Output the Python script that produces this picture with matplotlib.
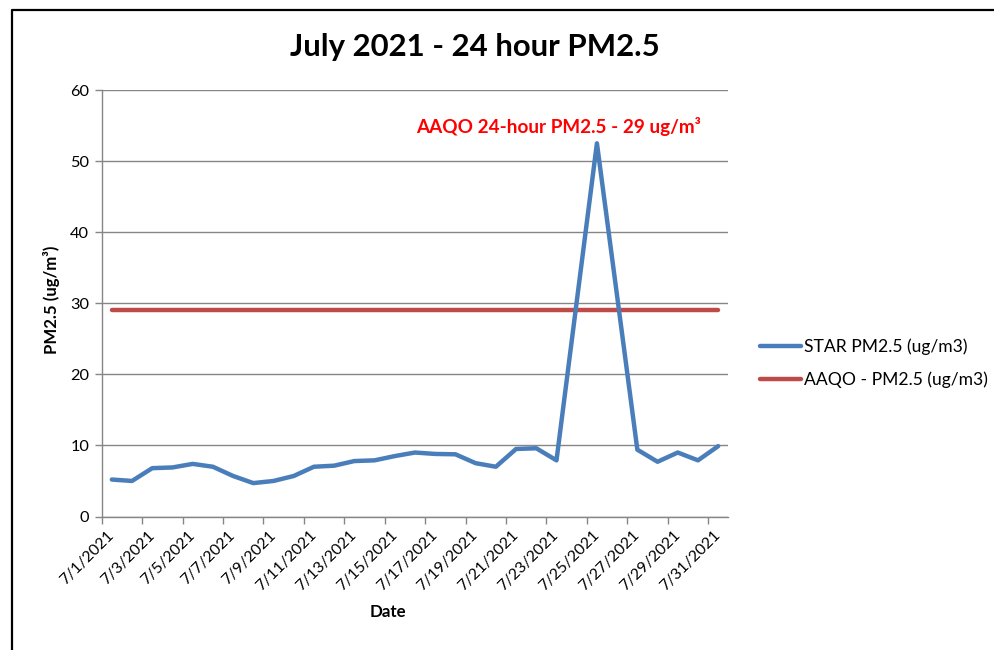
import matplotlib
matplotlib.use('Agg')
import matplotlib.pyplot as plt
from matplotlib.lines import Line2D

plt.rcParams['font.family'] = ['Lato', 'DejaVu Sans']

# ---- data ----
days = [1, 2, 3, 4, 5, 6, 7, 8, 9, 10, 11, 12, 13, 14, 15, 16,
        17, 18, 19, 20, 21, 22, 23, 24, 25, 26, 27, 28, 29, 30, 31]
star_pm25 = [5.2, 5.0, 6.8, 6.9, 7.4, 7.0, 5.7, 4.7, 5.0, 5.7, 7.0, 7.15,
             7.8, 7.9, 8.5, 9.0, 8.8, 8.75, 7.5, 7.0, 9.5, 9.6, 7.9, 30.2,
             52.5, 31.0, 9.4, 7.7, 9.0, 7.9, 9.9]
aaqo_limit = 29
aaqo_pm25 = [aaqo_limit] * len(days)
label_days = [1, 3, 5, 7, 9, 11, 13, 15, 17, 19, 21, 23, 25, 27, 29, 31]
tick_labels = ['7/1/2021', '7/3/2021', '7/5/2021', '7/7/2021', '7/9/2021',
               '7/11/2021', '7/13/2021', '7/15/2021', '7/17/2021', '7/19/2021',
               '7/21/2021', '7/23/2021', '7/25/2021', '7/27/2021', '7/29/2021',
               '7/31/2021']
y_ticks = [0, 10, 20, 30, 40, 50, 60]

W, H = 995, 650
fig = plt.figure(figsize=(W / 100, H / 100), dpi=100)
fig.patch.set_facecolor('white')

ax = fig.add_axes([101.7 / W, 1 - 516.5 / H, (728.3 - 101.7) / W, (516.5 - 90) / H])

grey = '#868686'
blue = '#4A7EBB'
red = '#BE4B48'

ax.plot(days, star_pm25, color=blue, lw=3.2, solid_joinstyle='round',
        solid_capstyle='round', label='STAR PM2.5 (ug/m3)', zorder=3)
ax.plot(days, aaqo_pm25, color=red, lw=3.2, solid_capstyle='round',
        label='AAQO - PM2.5 (ug/m3)', zorder=2)

ax.set_xlim(0.5, 31.5)
ax.set_ylim(0, 60)
ax.set_yticks(y_ticks)
ax.set_yticklabels([str(v) for v in y_ticks])
ax.yaxis.grid(True, color=grey, lw=1.0)
ax.set_axisbelow(True)

ax.set_xticks(label_days)
ax.set_xticklabels(tick_labels, rotation=45, ha='right', va='center',
                   rotation_mode='anchor')
ax.set_xticks([d - 0.5 for d in label_days], minor=True)
ax.tick_params(axis='x', which='major', length=0, pad=12, labelsize=11.4,
               labelcolor='black')
ax.tick_params(axis='x', which='minor', length=5, width=1, color=grey,
               direction='out')
ax.tick_params(axis='y', which='major', length=5, width=1, color=grey,
               direction='out', labelsize=11.8, pad=4)

for s in ['top', 'right']:
    ax.spines[s].set_visible(False)
for s in ['left', 'bottom']:
    ax.spines[s].set_color(grey)
    ax.spines[s].set_linewidth(1.0)

ax.text(23.1, 54.9, 'AAQO 24-hour PM2.5 - 29 ug/m\u00b3', color='#FF0000',
        fontsize=13.6, fontweight='bold', ha='center', va='center')

fig.text(475 / W, 1 - 47 / H, 'July 2021 - 24 hour PM2.5', fontsize=22.4,
         fontweight='bold', ha='center', va='center')
fig.text(388 / W, 1 - 612 / H, 'Date', fontsize=12.2, fontweight='bold',
         ha='center', va='center')
fig.text(51.7 / W, 1 - 300 / H, 'PM2.5 (ug/m\u00b3)', fontsize=12.1,
         fontweight='bold', ha='center', va='center', rotation=90)

leg = fig.legend(loc='center left', bbox_to_anchor=(760 / W, 1 - 363 / H),
                 frameon=False, fontsize=12.6, handlelength=2.35,
                 handletextpad=0.15, labelspacing=0.95, borderpad=0,
                 borderaxespad=0)

# outer chart border (top and left edges visible)
fig.add_artist(Line2D([12 / W, 12 / W, 1.0], [0.0, 1 - 10 / H, 1 - 10 / H],
                      transform=fig.transFigure, color='black', lw=1.6))

fig.savefig('out.png', dpi=100)
